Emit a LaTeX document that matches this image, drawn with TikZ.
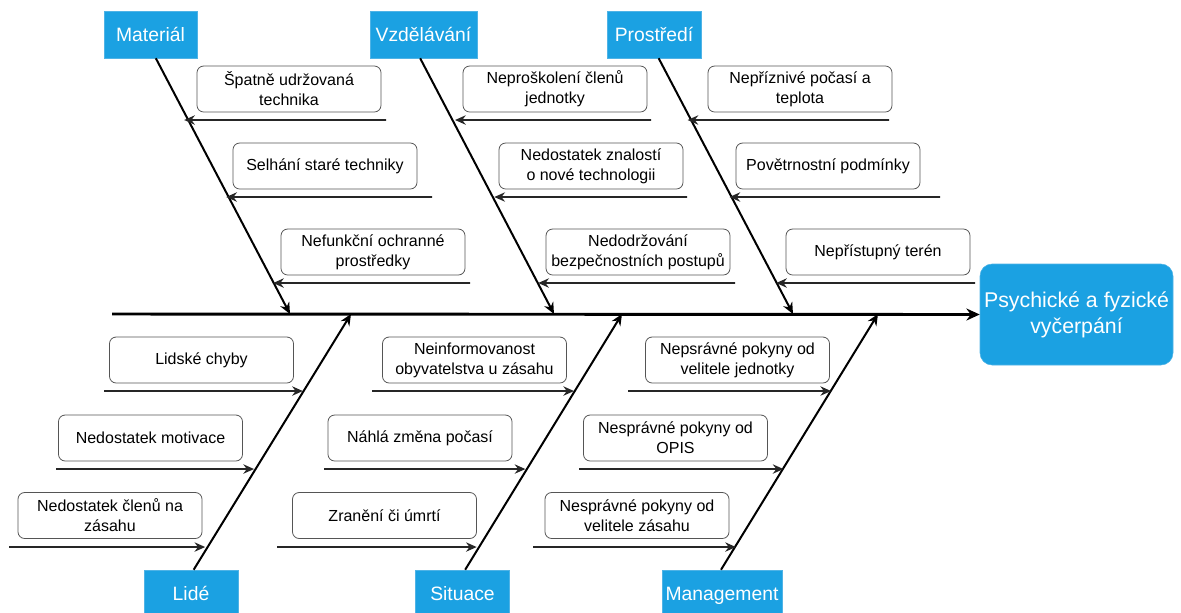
\documentclass[tikz,border=0pt]{standalone}
\usepackage{fontspec}
\setmainfont{Liberation Sans}
\usetikzlibrary{arrows.meta}
\definecolor{catblue}{HTML}{1BA1E2}
\definecolor{catedge}{HTML}{4FB3E6}
\definecolor{boxedge}{HTML}{555555}

\begin{document}
\begin{tikzpicture}[x=0.75pt,y=-0.75pt,
   catbox/.style={fill=catblue,draw=catedge,text=white,inner sep=0pt,
      minimum height=35.25pt,text height=10.5pt,text depth=0pt,
      font=\fontsize{14.5}{17}\selectfont},
   effbox/.style={fill=catblue,draw=catedge,text=white,rounded corners=9pt,
      minimum width=144.75pt,minimum height=75.75pt,inner sep=0pt,align=center,
      font=\fontsize{16}{19.5}\selectfont},
   causebox/.style={draw=boxedge,line width=0.6pt,rounded corners=5pt,
      minimum width=138pt,minimum height=34.5pt,inner sep=0pt,align=center,
      font=\fontsize{12}{15}\selectfont},
   spine/.style={line width=2.2pt,-{Stealth[length=10pt,width=9pt]}},
   bone/.style={line width=1.5pt,-{Stealth[length=8.5pt,width=7.5pt]}},
   cause/.style={line width=1.3pt,draw=black!85,-{Stealth[length=8pt,width=7pt]}}]
\useasboundingbox (0,0) rectangle (1181,612);

% hlava a paterni kost
\node[effbox] (eff) at (1076.5,314.5) {Psychické a fyzické\\vyčerpání};
\coordinate (spinestart) at (112,314);
\draw[spine] (spinestart) -- (eff.west);

% kategorie nahore
\node[catbox,minimum width=69.75pt] (mat) at (150.5,34.5) {Materiál};
\node[catbox,minimum width=80.25pt] (vzd) at (423.5,34.5) {Vzdělávání};
\node[catbox,minimum width=70.5pt]  (pro) at (654,34.5)   {Prostředí};
\coordinate (matj) at (290,314);
\coordinate (vzdj) at (554,314);
\coordinate (proj) at (793,314);
\draw[bone] ([xshift=4pt]mat.south) -- (matj);
\draw[bone] ([xshift=-2.5pt]vzd.south) -- (vzdj);
\draw[bone] ([xshift=3.5pt]pro.south) -- (proj);

% kategorie dole
\node[catbox,minimum width=70.5pt] (lid) at (191,593.5)   {Lidé};
\node[catbox,minimum width=70.5pt] (sit) at (462.5,593.5) {Situace};
\node[catbox,minimum width=90pt]   (man) at (722,593.5)   {Management};
\coordinate (lidj) at (351,314);
\coordinate (sitj) at (622,314);
\coordinate (manj) at (878,314);
\draw[bone] ([xshift=2pt]lid.north) -- (lidj);
\draw[bone] ([xshift=2pt]sit.north) -- (sitj);
\draw[bone] ([xshift=-0.75pt]man.north) -- (manj);

% Material
\node[causebox] (mat1) at (289,89)  {Špatně udržovaná\\technika};
\node[causebox] (mat2) at (325,166) {Selhání staré techniky};
\node[causebox] (mat3) at (373,252) {Nefunkční ochranné\\prostředky};
\coordinate (mat1s) at (386,120);
\coordinate (mat2s) at (432,197);
\coordinate (mat3s) at (470,283);
\draw[cause] (mat1s) -- (intersection of mat.south--matj and mat1s--0,120);
\draw[cause] (mat2s) -- (intersection of mat.south--matj and mat2s--0,197);
\draw[cause] (mat3s) -- (intersection of mat.south--matj and mat3s--0,283);

% Vzdelavani
\node[causebox] (vzd1) at (555,89)  {Neproškolení členů\\jednotky};
\node[causebox] (vzd2) at (591,166) {Nedostatek znalostí\\o nové technologii};
\node[causebox] (vzd3) at (638,252) {Nedodržování\\bezpečnostních postupů};
\coordinate (vzd1s) at (651,120);
\coordinate (vzd2s) at (687,197);
\coordinate (vzd3s) at (735,283);
\draw[cause] (vzd1s) -- (intersection of vzd.south--vzdj and vzd1s--0,120);
\draw[cause] (vzd2s) -- (intersection of vzd.south--vzdj and vzd2s--0,197);
\draw[cause] (vzd3s) -- (intersection of vzd.south--vzdj and vzd3s--0,283);

% Prostredi
\node[causebox] (pro1) at (800,89)  {Nepříznivé počasí a\\teplota};
\node[causebox] (pro2) at (828,166) {Povětrnostní podmínky};
\node[causebox] (pro3) at (878,252) {Nepřístupný terén};
\coordinate (pro1s) at (889,120);
\coordinate (pro2s) at (940,197);
\coordinate (pro3s) at (975,283);
\draw[cause] (pro1s) -- (intersection of pro.south--proj and pro1s--0,120);
\draw[cause] (pro2s) -- (intersection of pro.south--proj and pro2s--0,197);
\draw[cause] (pro3s) -- (intersection of pro.south--proj and pro3s--0,283);

% Lide
\node[causebox] (lid1) at (201.5,360) {Lidské chyby};
\node[causebox] (lid2) at (150.5,438) {Nedostatek motivace};
\node[causebox] (lid3) at (110,515.5) {Nedostatek členů na\\zásahu};
\coordinate (lid1s) at (104,391);
\coordinate (lid2s) at (56,469);
\coordinate (lid3s) at (9,547);
\draw[cause] (lid1s) -- (intersection of lid.north--lidj and lid1s--1000,391);
\draw[cause] (lid2s) -- (intersection of lid.north--lidj and lid2s--1000,469);
\draw[cause] (lid3s) -- (intersection of lid.north--lidj and lid3s--1000,547);

% Situace
\node[causebox] (sit1) at (474.5,360) {Neinformovanost\\obyvatelstva u zásahu};
\node[causebox] (sit2) at (420,438)   {Náhlá změna počasí};
\node[causebox] (sit3) at (384.5,515.5) {Zranění či úmrtí};
\coordinate (sit1s) at (372,391);
\coordinate (sit2s) at (324,469);
\coordinate (sit3s) at (277,547);
\draw[cause] (sit1s) -- (intersection of sit.north--sitj and sit1s--1000,391);
\draw[cause] (sit2s) -- (intersection of sit.north--sitj and sit2s--1000,469);
\draw[cause] (sit3s) -- (intersection of sit.north--sitj and sit3s--1000,547);

% Management
\node[causebox] (man1) at (737.5,360) {Nepsrávné pokyny od\\velitele jednotky};
\node[causebox] (man2) at (675.5,438) {Nesprávné pokyny od\\OPIS};
\node[causebox] (man3) at (637,515.5) {Nesprávné pokyny od\\velitele zásahu};
\coordinate (man1s) at (628,391);
\coordinate (man2s) at (579,469);
\coordinate (man3s) at (533,547);
\draw[cause] (man1s) -- (intersection of man.north--manj and man1s--1000,391);
\draw[cause] (man2s) -- (intersection of man.north--manj and man2s--1000,469);
\draw[cause] (man3s) -- (intersection of man.north--manj and man3s--1000,547);

\end{tikzpicture}
\end{document}
